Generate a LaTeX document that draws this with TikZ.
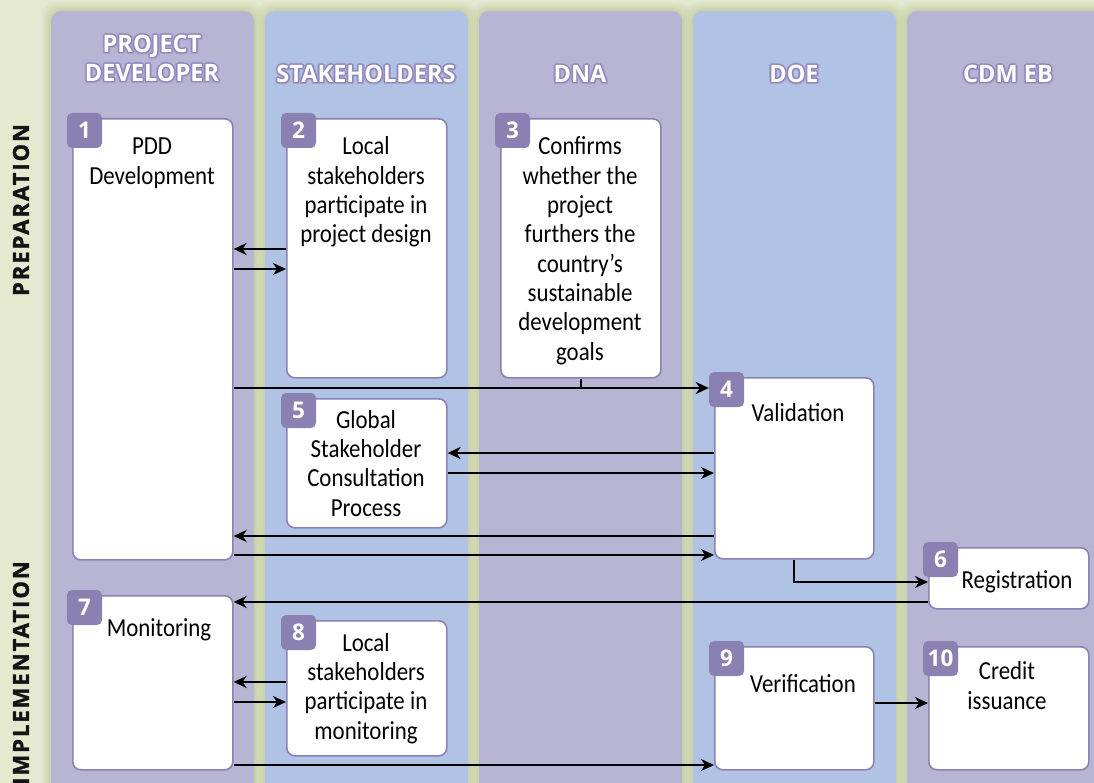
\documentclass[tikz,border=0pt]{standalone}
\usepackage{fontspec}
\setmainfont{Carlito}[FakeStretch=0.88]
\newfontfamily\headfont{Open Sans}[FakeStretch=0.98]
\newfontfamily\sidefont{Open Sans}[LetterSpace=9, FakeBold=1.6]
\usetikzlibrary{arrows.meta,calc}

\definecolor{bgpale}{HTML}{E4E9D0}
\definecolor{bggreen}{HTML}{B9C38C}
\definecolor{lanepurple}{HTML}{B8B5D4}
\definecolor{laneblue}{HTML}{B1C3E4}
\definecolor{badgefill}{HTML}{8A81B2}
\definecolor{boxline}{HTML}{8A82B5}
\definecolor{haloin}{HTML}{8D87BE}
\definecolor{haloout}{HTML}{A39FCB}

% white lettering with a soft purple ring behind it
\newcommand\halo[1]{\begingroup\setbox0=\hbox{#1}%
  \def\hc##1##2##3{\rlap{\kern##2pt\raise##3pt\hbox{\color{##1}\copy0}}}%
  \hc{haloout}{2.2}{0}\hc{haloout}{-2.2}{0}\hc{haloout}{0}{2.2}\hc{haloout}{0}{-2.2}%
  \hc{haloout}{1.55}{1.55}\hc{haloout}{-1.55}{1.55}\hc{haloout}{1.55}{-1.55}\hc{haloout}{-1.55}{-1.55}%
  \hc{haloin}{1.2}{0}\hc{haloin}{-1.2}{0}\hc{haloin}{0}{1.2}\hc{haloin}{0}{-1.2}%
  \hc{haloin}{0.85}{0.85}\hc{haloin}{-0.85}{0.85}\hc{haloin}{0.85}{-0.85}\hc{haloin}{-0.85}{-0.85}%
  \box0\endgroup}

\tikzset{
  stepbox/.style={draw=boxline, line width=1.6pt, fill=white, rounded corners=8pt,
    inner sep=0pt, anchor=north west},
  badge/.style={fill=badgefill, rounded corners=5pt, minimum size=35pt, inner sep=0pt,
    text=white, font=\headfont\bfseries\fontsize{23}{23}\selectfont},
  % anchored on the baseline of the last line
  steptext/.style={align=center, anchor=base, inner sep=0pt,
    font=\fontsize{26}{29.3}\selectfont},
  head/.style={align=center, inner sep=0pt, text=white,
    font=\headfont\bfseries\fontsize{24}{29}\selectfont},
  side/.style={rotate=90, inner sep=0pt, text=black!92,
    font=\sidefont\bfseries\fontsize{22}{22}\selectfont},
  arr/.style={line width=2pt, -{Stealth[length=13pt,width=12pt,inset=4pt]}},
  link/.style={line width=2pt},
}

\begin{document}
\begin{tikzpicture}[x=1pt,y=-1pt]
\useasboundingbox (0,0) rectangle (1094,783);
\clip (0,0) rectangle (1094,783);
\fill[bgpale] (0,0) rectangle (1094,783);

% soft green shadow around the lanes
\foreach \lx in {51,265,479,693,907}{
  \foreach \e/\o in {9/0.10,7/0.12,5/0.15,3/0.18,1.5/0.2}{
    \fill[bggreen, opacity=\o, rounded corners=12pt]
      (\lx-\e, 11-\e) rectangle (\lx+203+\e, 820);
  }
}

% lanes
\foreach \lx/\lc in {51/lanepurple,265/laneblue,479/lanepurple,693/laneblue,907/lanepurple}{
  \fill[\lc, rounded corners=10pt] (\lx,11) rectangle (\lx+203,820);
}

% lane headings
\node[head] (h1) at (152,58.5) {\halo{PROJECT}\\\halo{DEVELOPER}};
\node[head] (h2) at (366,74) {\halo{STAKEHOLDERS}};
\node[head] (h3) at (580,74) {\halo{DNA}};
\node[head] (h4) at (794,74) {\halo{DOE}};
\node[head] (h5) at (1008,74) {\halo{CDM EB}};

% phase labels
\node[side] (prep) at (21,210) {PREPARATION};
\node[side] (impl) at (21,673) {IMPLEMENTATION};

% step boxes
\node[stepbox, minimum width=160pt, minimum height=441pt] (b1) at (72,118) {};
\node[stepbox, minimum width=160pt, minimum height=259pt] (b2) at (286,118) {};
\node[stepbox, minimum width=160pt, minimum height=259pt] (b3) at (500,118) {};
\node[stepbox, minimum width=159pt, minimum height=181pt] (b4) at (714,377) {};
\node[stepbox, minimum width=160pt, minimum height=129pt] (b5) at (286,398) {};
\node[stepbox, minimum width=160pt, minimum height=61pt]  (b6) at (928,547) {};
\node[stepbox, minimum width=160pt, minimum height=174pt] (b7) at (72,595) {};
\node[stepbox, minimum width=160pt, minimum height=135pt] (b8) at (286,620) {};
\node[stepbox, minimum width=159pt, minimum height=123pt] (b9) at (714,646) {};
\node[stepbox, minimum width=160pt, minimum height=123pt] (b10) at (928,646) {};

% step numbers
\foreach \k in {1,...,10}{
  \node[badge] (n\k) at ([shift={(12.5,12.5)}]b\k.north west) {\k};
}

% step texts
\node[steptext] (t1) at (152,184.3) {PDD\\Development};
\node[steptext] (t2) at (366,242.9) {Local\\stakeholders\\participate in\\project design};
\node[steptext] (t3) at (580,360.1) {Confirms\\whether the\\project\\furthers the\\country’s\\sustainable\\development\\goals};
\node[steptext] (t4) at (798,421) {Validation};
\node[steptext] (t5) at (366,516) {Global\\Stakeholder\\Consultation\\Process};
\node[steptext] (t6) at (1017,588) {Registration};
\node[steptext] (t7) at (159,636) {Monitoring};
\node[steptext] (t8) at (366,739) {Local\\stakeholders\\participate in\\monitoring};
\node[steptext] (t9) at (803,692) {Verification};
\node[steptext] (t10) at (1007,709) {Credit\\issuance};

% connectors
\draw[arr] (b2.west |- 0,249) -- (b1.east |- 0,249);
\draw[arr] (b1.east |- 0,269) -- (b2.west |- 0,269);
\draw[arr] (b1.east |- 0,388) -- (n4.west |- 0,388);
\draw[link] (b3.south) -- (b3.south |- 0,388);
\draw[arr] (b4.west |- 0,453) -- (b5.east |- 0,453);
\draw[arr] (b5.east |- 0,473) -- (b4.west |- 0,473);
\draw[arr] (b4.west |- 0,536) -- (b1.east |- 0,536);
\draw[arr] (b1.east |- 0,555) -- (b4.west |- 0,555);
\draw[arr] (b4.south) -- (b4.south |- 0,582) -- (b6.west |- 0,582);
\draw[arr] (b6.west |- 0,602) -- (b7.east |- 0,602);
\draw[arr] (b8.west |- 0,682) -- (b7.east |- 0,682);
\draw[arr] (b7.east |- 0,702) -- (b8.west |- 0,702);
\draw[arr] (b7.east |- 0,765) -- (b9.west |- 0,765);
\draw[arr] (b9.east |- 0,703) -- (b10.west |- 0,703);
\end{tikzpicture}
\end{document}
